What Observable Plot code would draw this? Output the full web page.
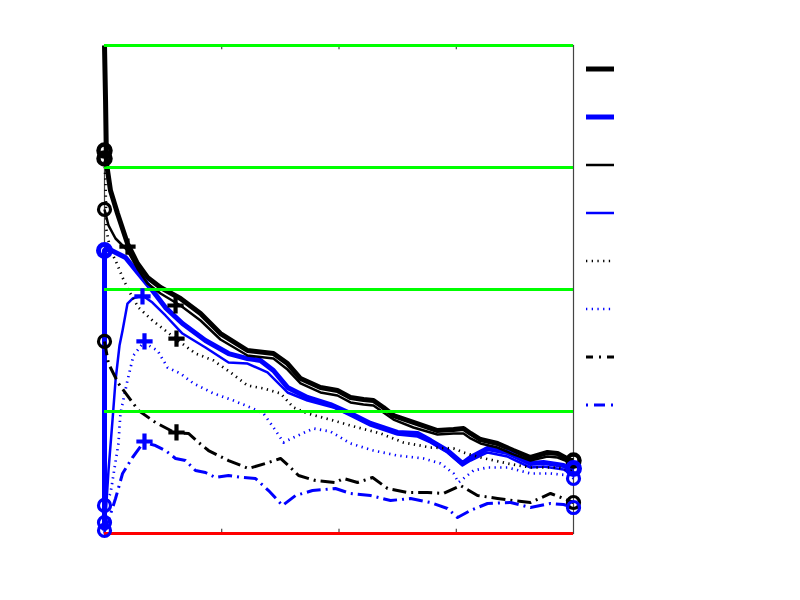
<!DOCTYPE html>
<html>
<head>
<meta charset="utf-8">
<script src="https://cdn.jsdelivr.net/npm/d3@7"></script>
<script src="https://cdn.jsdelivr.net/npm/@observablehq/plot@0.6"></script>
<style>
  body { margin: 0; background: #fff; }
  #wrap { position: relative; width: 800px; height: 600px; }
  #wrap svg { position: absolute; left: 0; top: 0; }
</style>
</head>
<body>
<div id="wrap"></div>
<script>
// ---- series data (x in 0..4, y in 0..4) ----
const thickBlackX = [0, .009, .017, .051, .111, .196, .281, .367, .478, .648, .819, .989, 1.22, 1.441, 1.561, 1.672, 1.842, 1.987, 2.098, 2.209, 2.294, 2.379, 2.465, 2.635, 2.84, 2.977, 3.062, 3.122, 3.207, 3.352, 3.488, 3.633, 3.778, 3.864, 3.974, 4];
const thickBlackY = [4, 3.549, 3.033, 2.811, 2.623, 2.377, 2.213, 2.098, 2.016, 1.926, 1.803, 1.639, 1.5, 1.475, 1.393, 1.27, 1.197, 1.172, 1.115, 1.098, 1.09, 1.033, .967, .91, .844, .852, .861, .82, .77, .738, .68, .623, .664, .656, .598, .598];

const thickBlueX = [0, 0, .026, .094, .179, .29, .409, .52, .665, .861, 1.058, 1.22, 1.33, 1.441, 1.561, 1.731, 1.927, 2.098, 2.269, 2.499, 2.67, 2.78, 2.925, 3.053, 3.122, 3.267, 3.437, 3.633, 3.744, 3.915, 4];
const thickBlueY = [.025, 2.32, 2.336, 2.303, 2.262, 2.131, 1.992, 1.852, 1.721, 1.582, 1.475, 1.434, 1.418, 1.336, 1.197, 1.115, 1.057, .984, .902, .828, .82, .762, .68, .574, .623, .697, .664, .574, .582, .557, .516];

const thinBlackX = [0, .034, .094, .196, .281, .367, .478, .648, .819, .989, 1.22, 1.441, 1.561, 1.672, 1.842, 1.987, 2.098, 2.209, 2.294, 2.379, 2.465, 2.635, 2.84, 2.977, 3.062, 3.122, 3.207, 3.352, 3.488, 3.633, 3.778, 3.864, 3.974, 4];
const thinBlackY = [2.656, 2.525, 2.418, 2.32, 2.172, 2.049, 1.967, 1.869, 1.746, 1.59, 1.459, 1.434, 1.344, 1.23, 1.156, 1.131, 1.074, 1.057, 1.049, .992, .934, .869, .812, .82, .82, .779, .738, .705, .648, .598, .631, .623, .582, .574];

const thinBlueX = [0, .034, .068, .094, .128, .154, .196, .239, .324, .409, .52, .665, .861, 1.058, 1.22, 1.39, 1.561, 1.731, 1.953, 2.098, 2.269, 2.499, 2.67, 2.78, 2.925, 3.053, 3.122, 3.267, 3.437, 3.633, 3.744, 3.915, 4];
const thinBlueY = [0, .516, .926, 1.254, 1.541, 1.664, 1.885, 1.926, 1.951, 1.893, 1.787, 1.639, 1.525, 1.402, 1.393, 1.32, 1.156, 1.09, 1.033, .967, .885, .811, .795, .746, .664, .557, .598, .664, .631, .541, .549, .525, .475];

const dotBlackX = [0, .009, .017, .051, .094, .154, .205, .29, .409, .606, .776, .93, 1.075, 1.22, 1.356, 1.501, 1.612, 1.731, 1.953, 2.098, 2.354, 2.55, 2.78, 2.977, 3.062, 3.207, 3.437, 3.633, 3.864, 3.974, 4];
const dotBlackY = [3.098, 2.852, 2.484, 2.32, 2.238, 2.098, 1.992, 1.852, 1.746, 1.598, 1.475, 1.418, 1.32, 1.213, 1.189, 1.148, 1.033, .984, .926, .885, .82, .746, .705, .697, .664, .623, .574, .541, .541, .516, .492];

const dotBlueX = [0, .051, .119, .136, .196, .247, .333, .452, .537, .648, .759, .93, 1.1, 1.245, 1.356, 1.441, 1.527, 1.612, 1.783, 1.927, 2.098, 2.294, 2.499, 2.721, 2.866, 2.977, 3.019, 3.062, 3.147, 3.267, 3.437, 3.633, 3.804, 3.974, 4];
const dotBlueY = [.23, .328, .738, .984, 1.254, 1.459, 1.566, 1.5, 1.361, 1.311, 1.23, 1.148, 1.09, 1.033, .984, .869, .746, .787, .861, .836, .738, .68, .639, .615, .574, .492, .418, .451, .516, .541, .541, .492, .492, .475, .451];

const dashDotBlackX = [0, .034, .119, .29, .435, .597, .716, .802, .887, 1.058, 1.228, 1.373, 1.501, 1.569, 1.655, 1.8, 1.97, 2.038, 2.158, 2.286, 2.414, 2.584, 2.755, 2.891, 3.036, 3.181, 3.352, 3.488, 3.633, 3.804, 3.915, 4];
const dashDotBlackY = [1.574, 1.393, 1.23, 1.008, .91, .828, .82, .746, .68, .598, .533, .574, .615, .557, .475, .434, .418, .451, .418, .459, .369, .336, .336, .328, .393, .311, .287, .27, .254, .328, .287, .254];

const dashDotBlueX = [0, .034, .094, .154, .239, .333, .435, .52, .606, .691, .776, .861, .947, 1.058, 1.177, 1.288, 1.399, 1.518, 1.629, 1.774, 1.97, 2.098, 2.269, 2.439, 2.61, 2.78, 2.925, 3.011, 3.122, 3.267, 3.463, 3.633, 3.804, 3.915, 4];
const dashDotBlueY = [.025, .107, .287, .492, .623, .746, .721, .68, .615, .598, .516, .5, .459, .475, .459, .451, .352, .23, .311, .352, .369, .328, .311, .27, .287, .254, .205, .131, .189, .246, .254, .213, .246, .238, .213];

// markers
const circleBlackThickX = [0, 0, 4];
const circleBlackThickY = [3.139, 3.074, .598];
const circleBlackThinX = [0, 0, 4];
const circleBlackThinY = [2.656, 1.574, .254];
const circleBlueThickX = [0, 4];
const circleBlueThickY = [2.32, .533];
const circleBlueThinX = [0, 0, 0, 4, 4];
const circleBlueThinY = [.23, .09, .025, .451, .213];
const plusBlackX = [.196, .606, .614, .614];
const plusBlackY = [2.352, 1.869, 1.598, .828];
const plusBlueX = [.324, .341, .341];
const plusBlueY = [1.943, 1.574, .754];

// reference lines
const greenLevels = [1, 2, 3, 4];
const redLevels = [0];
const xTicks = [1, 2, 3];

// styles
const BLUE = "#0000ff";
const series = [
  {x: thickBlackX, y: thickBlackY, stroke: "#000", w: 5, dash: null},
  {x: thickBlueX, y: thickBlueY, stroke: BLUE, w: 5, dash: null},
  {x: thinBlackX, y: thinBlackY, stroke: "#000", w: 2.5, dash: null},
  {x: thinBlueX, y: thinBlueY, stroke: BLUE, w: 2.5, dash: null},
  {x: dotBlackX, y: dotBlackY, stroke: "#000", w: 2.7, dash: "1.3,4.4"},
  {x: dotBlueX, y: dotBlueY, stroke: BLUE, w: 2.7, dash: "1.3,4.4"},
  {x: dashDotBlackX, y: dashDotBlackY, stroke: "#000", w: 3, dash: "14,5,2,5"},
  {x: dashDotBlueX, y: dashDotBlueY, stroke: BLUE, w: 3, dash: "14,5,2,5"}
];

const zipXY = (xs, ys) => xs.map((x, i) => ({x, y: ys[i]}));

const lineMarks = series.map(s => Plot.line(zipXY(s.x, s.y), {
  x: "x", y: "y", stroke: s.stroke, strokeWidth: s.w,
  strokeDasharray: s.dash, strokeLinejoin: "round", strokeLinecap: "butt"
}));

const circle = (xs, ys, color, w) => Plot.dot(zipXY(xs, ys), {
  x: "x", y: "y", r: 6, stroke: color, strokeWidth: w, fill: "none"
});
const plus = (xs, ys, color) => Plot.dot(zipXY(xs, ys), {
  x: "x", y: "y", symbol: "plus", r: 5.3, stroke: color, strokeWidth: 4.2
});

const chart = Plot.plot({
  width: 800, height: 600,
  marginLeft: 104, marginRight: 227, marginTop: 45, marginBottom: 67,
  x: {domain: [0, 4], axis: null},
  y: {domain: [0, 4], axis: null},
  style: {background: "#fff"},
  marks: [
    Plot.frame({stroke: "#444", strokeWidth: 1.2}),
    Plot.ruleX(xTicks, {x: d => d, y1: 0, y2: 0.035, stroke: "#222"}),
    Plot.ruleX(xTicks, {x: d => d, y1: 3.965, y2: 4, stroke: "#222"}),
    ...lineMarks,
    Plot.ruleY(greenLevels, {y: d => d, x1: 0, x2: 4, stroke: "#00ff00", strokeWidth: 2.8}),
    Plot.ruleY(redLevels, {y: d => d, x1: 0, x2: 4, stroke: "#ff0000", strokeWidth: 2.8}),
    circle(circleBlackThickX, circleBlackThickY, "#000", 4.5),
    circle(circleBlackThinX, circleBlackThinY, "#000", 3.2),
    circle(circleBlueThickX, circleBlueThickY, BLUE, 5),
    circle(circleBlueThinX, circleBlueThinY, BLUE, 3.2),
    plus(plusBlackX, plusBlackY, "#000"),
    plus(plusBlueX, plusBlueY, BLUE)
  ]
});
const wrap = document.getElementById("wrap");
wrap.appendChild(chart);

// legend samples (no visible text in the reference)
const legend = d3.select(wrap).append("svg")
  .attr("width", 800).attr("height", 600)
  .style("pointer-events", "none");
const legendY0 = 69, legendStep = 48;
const legendOffsets = [0, 0, 0, 0, 0, 0, 7, 0];
const legendDash = [null, null, null, null, "1.3,4.4", "1.3,4.4", "14,6,2,6", "2,6,11,6"];
series.forEach((s, i) => {
  legend.append("line")
    .attr("x1", 586).attr("x2", 614)
    .attr("y1", legendY0 + i * legendStep).attr("y2", legendY0 + i * legendStep)
    .attr("stroke", s.stroke)
    .attr("stroke-width", s.w)
    .attr("stroke-dasharray", legendDash[i])
    .attr("stroke-dashoffset", legendOffsets[i]);
});
</script>
</body>
</html>
